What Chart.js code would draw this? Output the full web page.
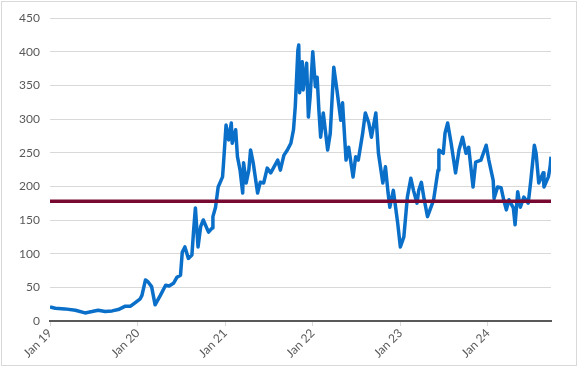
<!DOCTYPE html>
<html>
<head>
<meta charset="utf-8">
<script src="https://cdn.jsdelivr.net/npm/chart.js@4"></script>
<style>
  html, body { margin: 0; padding: 0; background: #fff; }
  #wrap { width: 578px; height: 367px; position: relative; }
</style>
</head>
<body>
<div id="wrap"><canvas id="chart" width="578" height="367"></canvas></div>
<script>
// time in decimal years
const years = [
  2019.00, 2019.06, 2019.17, 2019.29, 2019.40, 2019.48, 2019.55, 2019.63, 2019.71, 2019.78,
  2019.86, 2019.92, 2019.97, 2020.03, 2020.05, 2020.09, 2020.12, 2020.16, 2020.20, 2020.26,
  2020.32, 2020.36, 2020.41, 2020.45, 2020.49, 2020.51, 2020.54, 2020.58, 2020.62, 2020.64,
  2020.66, 2020.69, 2020.72, 2020.75, 2020.81, 2020.85, 2020.86, 2020.89, 2020.92, 2020.97,
  2020.98, 2021.01, 2021.04, 2021.07, 2021.08, 2021.12, 2021.14, 2021.17, 2021.20, 2021.21,
  2021.24, 2021.27, 2021.29, 2021.32, 2021.37, 2021.40, 2021.44, 2021.48, 2021.52, 2021.55,
  2021.60, 2021.63, 2021.67, 2021.71, 2021.75, 2021.78, 2021.80, 2021.83, 2021.84, 2021.85,
  2021.86, 2021.88, 2021.89, 2021.93, 2021.95, 2021.97, 2022.00, 2022.03, 2022.05, 2022.07,
  2022.09, 2022.12, 2022.17, 2022.20, 2022.24, 2022.28, 2022.32, 2022.34, 2022.38, 2022.41,
  2022.46, 2022.49, 2022.52, 2022.57, 2022.60, 2022.64, 2022.67, 2022.72, 2022.75, 2022.80,
  2022.83, 2022.86, 2022.88, 2022.92, 2022.95, 2022.97, 2023.00, 2023.04, 2023.08, 2023.12,
  2023.15, 2023.19, 2023.21, 2023.24, 2023.27, 2023.31, 2023.35, 2023.38, 2023.43, 2023.44,
  2023.49, 2023.51, 2023.54, 2023.58, 2023.63, 2023.67, 2023.71, 2023.75, 2023.78, 2023.83,
  2023.86, 2023.92, 2023.98, 2024.01, 2024.06, 2024.07, 2024.11, 2024.15, 2024.18, 2024.21,
  2024.24, 2024.29, 2024.31, 2024.34, 2024.37, 2024.41, 2024.46, 2024.49, 2024.53, 2024.55,
  2024.58, 2024.63, 2024.64, 2024.69, 2024.71, 2024.72
];

const prices = [
  21, 19, 18, 16, 12, 14, 16, 14, 15, 17,
  22, 22, 27, 33, 38, 61, 58, 51, 24, 38,
  53, 52, 56, 65, 68, 102, 110, 93, 98, 135,
  168, 110, 140, 150, 132, 138, 155, 169, 199, 214,
  232, 291, 269, 294, 264, 284, 244, 224, 190, 235,
  205, 224, 254, 235, 190, 206, 205, 227, 220, 227,
  239, 224, 246, 254, 264, 284, 318, 402, 410, 339,
  373, 385, 343, 383, 303, 333, 400, 348, 362, 313,
  273, 309, 254, 279, 377, 339, 298, 324, 239, 258,
  214, 244, 239, 279, 309, 294, 273, 309, 249, 205,
  229, 190, 169, 194, 165, 145, 110, 125, 184, 212,
  194, 175, 194, 206, 182, 155, 169, 180, 224, 254,
  249, 279, 294, 264, 220, 254, 273, 249, 258, 199,
  236, 239, 261, 239, 209, 182, 199, 198, 180, 165,
  180, 168, 143, 192, 169, 184, 175, 209, 261, 249,
  205, 220, 199, 214, 229, 244
];

const refLevel = 178;
const yTicks = [0, 50, 100, 150, 200, 250, 300, 350, 400, 450];

const xStart = years[0];
const xEnd = years[years.length - 1];

const series = years.map((t, i) => ({ x: t, y: prices[i] }));
const refLine = [{ x: xStart, y: refLevel }, { x: xEnd, y: refLevel }];

const frame = {
  id: 'frame',
  beforeDraw(chart) {
    const ctx = chart.ctx;
    ctx.save();
    ctx.fillStyle = '#fff';
    ctx.fillRect(0, 0, chart.width, chart.height);
    ctx.strokeStyle = '#d9d9d9';
    ctx.lineWidth = 1;
    ctx.strokeRect(1.5, 1.5, chart.width - 3, chart.height - 3);
    ctx.restore();
  }
};

Chart.defaults.font.family = 'Lato, "Open Sans", sans-serif';
Chart.defaults.font.size = 12;
Chart.defaults.color = '#595959';

new Chart(document.getElementById('chart'), {
  type: 'line',
  data: {
    datasets: [
      {
        data: refLine,
        borderColor: '#780a32',
        borderWidth: 3.5,
        pointRadius: 0,
        tension: 0
      },
      {
        data: series,
        borderColor: '#0a6fc9',
        borderWidth: 3.5,
        pointRadius: 0,
        tension: 0,
        borderJoinStyle: 'round'
      }
    ]
  },
  options: {
    responsive: false,
    animation: false,
    layout: { padding: { top: 18, right: 27, left: 0, bottom: 0 } },
    plugins: { legend: { display: false }, tooltip: { enabled: false } },
    scales: {
      x: {
        type: 'linear',
        min: xStart,
        max: xEnd,
        afterBuildTicks(scale) {
          scale.ticks = [2019, 2020, 2021, 2022, 2023, 2024].map(v => ({ value: v }));
        },
        afterFit(scale) { scale.height = 46; },
        ticks: {
          minRotation: 45,
          maxRotation: 45,
          padding: 0,
          callback: v => 'Jan ' + String(v).slice(2)
        },
        grid: { drawOnChartArea: false, color: '#d9d9d9', tickLength: 5 },
        border: { color: '#595959', width: 2 }
      },
      y: {
        min: 0,
        max: 450,
        afterBuildTicks(scale) {
          scale.ticks = yTicks.map(v => ({ value: v }));
        },
        afterFit(scale) { scale.width = 50; },
        ticks: { padding: 10 },
        grid: { color: '#d9d9d9', drawTicks: false },
        border: { display: false }
      }
    }
  },
  plugins: [frame]
});
</script>
</body>
</html>
